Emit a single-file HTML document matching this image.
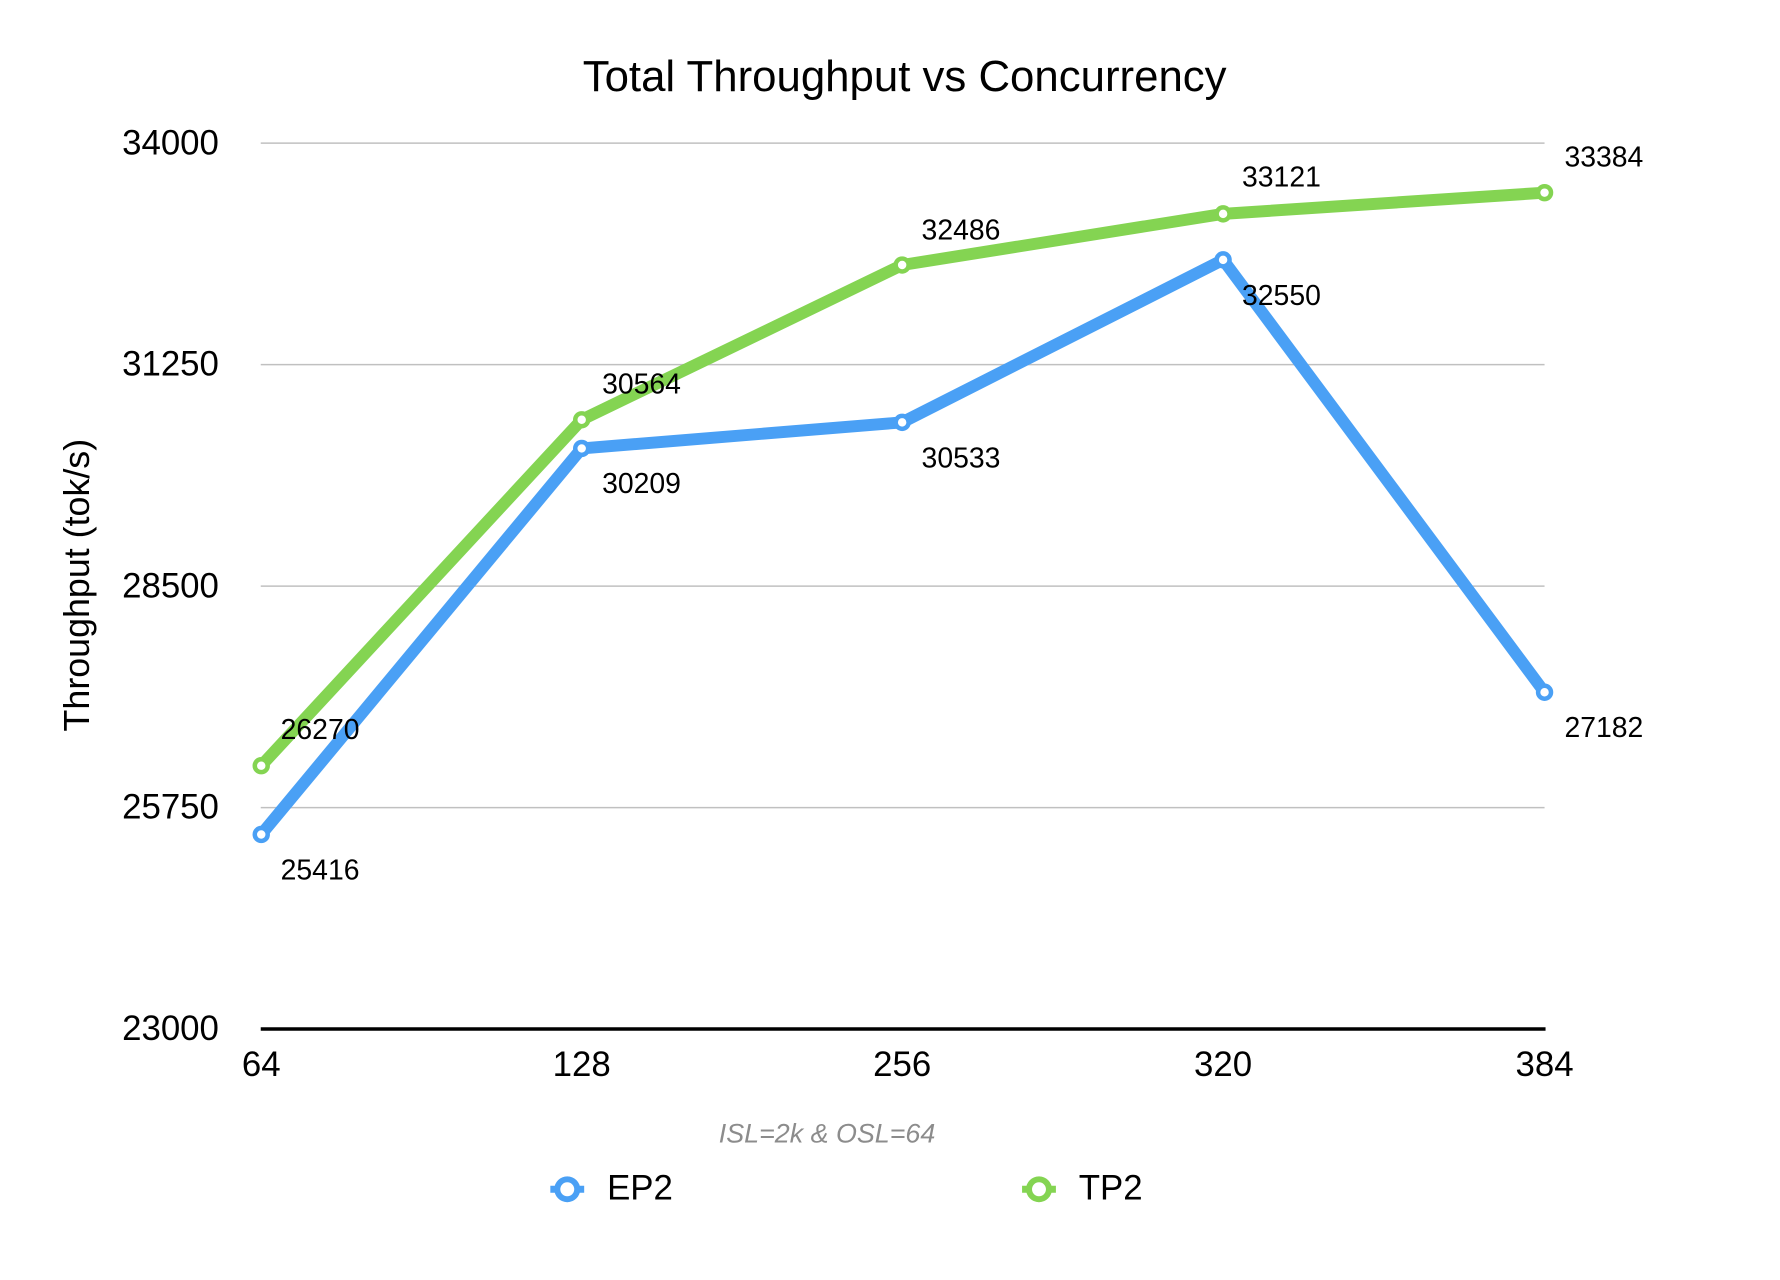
<!DOCTYPE html>
<html><head><style>body{margin:0;background:#fff}svg{display:block}</style></head><body>
<svg width="1780" height="1280" xmlns="http://www.w3.org/2000/svg" font-family="Liberation Sans, Arial, sans-serif">
<rect width="1780" height="1280" fill="#fff"/>
<g transform="scale(0.9952)">
<text x="909" y="80" font-size="44" text-anchor="middle" dominant-baseline="middle">Total Throughput vs Concurrency</text>
<g stroke="#c0c0c0" stroke-width="1.5">
<line x1="262" y1="143.8" x2="1552" y2="143.8"/>
<line x1="262" y1="366.4" x2="1552" y2="366.4"/>
<line x1="262" y1="588.9" x2="1552" y2="588.9"/>
<line x1="262" y1="811.5" x2="1552" y2="811.5"/>
</g>
<line x1="262" y1="1034" x2="1553" y2="1034" stroke="#000" stroke-width="3.5"/>
<g font-size="35" text-anchor="end" dominant-baseline="middle">
<text x="220" y="146">34000</text><text x="220" y="368">31250</text><text x="220" y="591">28500</text><text x="220" y="813">25750</text><text x="220" y="1036">23000</text>
</g>
<g font-size="35" text-anchor="middle" dominant-baseline="middle">
<text x="262.5" y="1072">64</text><text x="584.5" y="1072">128</text><text x="906.5" y="1072">256</text><text x="1229" y="1072">320</text><text x="1552" y="1072">384</text>
</g>
<text transform="translate(80,588) rotate(-90)" font-size="36" text-anchor="middle" dominant-baseline="middle">Throughput (tok/s)</text>
<polyline points="262.5,838.5 584.5,450.6 906.5,424.4 1229,261.1 1552,695.6" fill="none" stroke="#4aa0f5" stroke-width="12" stroke-linejoin="round"/>
<polyline points="262.5,769.4 584.5,421.8 906.5,266.3 1229,214.9 1552,193.6" fill="none" stroke="#84d452" stroke-width="12" stroke-linejoin="round"/>
<g fill="#fff" stroke="#4aa0f5" stroke-width="4.5">
<circle cx="262.5" cy="838.5" r="6.5"/><circle cx="584.5" cy="450.6" r="6.5"/><circle cx="906.5" cy="424.4" r="6.5"/><circle cx="1229" cy="261.1" r="6.5"/><circle cx="1552" cy="695.6" r="6.5"/>
</g>
<g fill="#fff" stroke="#84d452" stroke-width="4.5">
<circle cx="262.5" cy="769.4" r="6.5"/><circle cx="584.5" cy="421.8" r="6.5"/><circle cx="906.5" cy="266.3" r="6.5"/><circle cx="1229" cy="214.9" r="6.5"/><circle cx="1552" cy="193.6" r="6.5"/>
</g>
<g font-size="28.5" dominant-baseline="middle">
<text x="282" y="735">26270</text><text x="282" y="876">25416</text>
<text x="605" y="388">30564</text><text x="605" y="488">30209</text>
<text x="926" y="233">32486</text><text x="926" y="462">30533</text>
<text x="1248" y="180">33121</text><text x="1248" y="299">32550</text>
<text x="1572" y="160">33384</text><text x="1572" y="733">27182</text>
</g>
<text x="831" y="1141" font-size="27" font-style="italic" fill="#8c8c8c" text-anchor="middle" dominant-baseline="middle">ISL=2k &amp; OSL=64</text>
<line x1="553" y1="1195" x2="587" y2="1195" stroke="#4aa0f5" stroke-width="7"/>
<circle cx="570" cy="1195" r="10" fill="#fff" stroke="#4aa0f5" stroke-width="6"/>
<text x="610" y="1196" font-size="35" dominant-baseline="middle">EP2</text>
<line x1="1027" y1="1195" x2="1061" y2="1195" stroke="#84d452" stroke-width="7"/>
<circle cx="1044" cy="1195" r="10" fill="#fff" stroke="#84d452" stroke-width="6"/>
<text x="1084" y="1196" font-size="35" dominant-baseline="middle">TP2</text>
</g>
</svg>
</body></html>
